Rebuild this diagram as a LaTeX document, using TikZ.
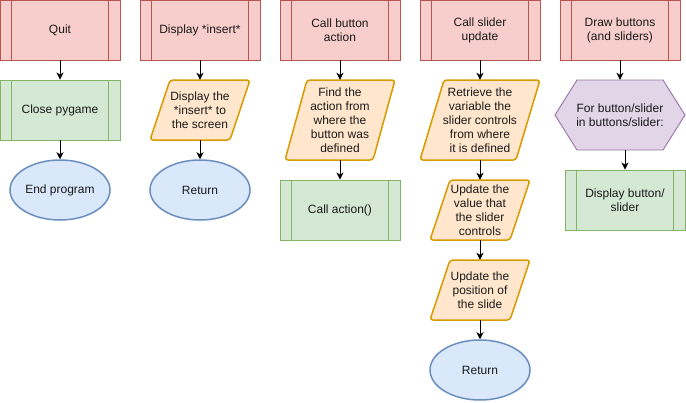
\documentclass[tikz,border=0pt]{standalone}
\usepackage{fontspec}
\setmainfont{Liberation Sans}
\usetikzlibrary{shapes.geometric,arrows.meta}
\definecolor{redF}{HTML}{F8CECC}\definecolor{redS}{HTML}{B85450}
\definecolor{greenF}{HTML}{D5E8D4}\definecolor{greenS}{HTML}{82B366}
\definecolor{blueF}{HTML}{DAE8FC}\definecolor{blueS}{HTML}{6C8EBF}
\definecolor{orangeF}{HTML}{FFE6CC}\definecolor{orangeS}{HTML}{D79B00}
\definecolor{purpleF}{HTML}{E1D5E7}\definecolor{purpleS}{HTML}{9673A6}
\definecolor{txtc}{HTML}{1A1A1A}
\tikzset{
 base/.style={inner sep=0pt, align=center, font=\fontsize{12}{14}\selectfont, text=txtc},
 proc/.style={base, rectangle, minimum width=120pt, minimum height=60pt, line width=0.9pt},
 redproc/.style={proc, draw=redS, fill=redF},
 greenproc/.style={proc, draw=greenS, fill=greenF},
 term/.style={base, ellipse, draw=blueS, fill=blueF, minimum width=100pt, minimum height=60pt, line width=1.5pt},
 iofill/.style={draw=orangeS, fill=orangeF, line width=1.5pt, rounded corners=3pt},
 hexfill/.style={draw=purpleS, fill=purpleF, line width=0.9pt},
 ghost/.style={base, rectangle},
 conn/.style={-{Stealth[length=7pt,width=7pt,inset=2pt]}, line width=0.9pt, black},
}
\newcommand\sublines[2]{\draw[#2, line width=0.9pt] ([xshift=12pt]#1.north west) -- ([xshift=12pt]#1.south west) ([xshift=-12pt]#1.north east) -- ([xshift=-12pt]#1.south east);}
\newcommand\paral[6]{%
 \pgfmathsetmacro\pw{#4/2}\pgfmathsetmacro\ph{#5/2}\pgfmathsetmacro\ps{0.2*#4}%
 \draw[iofill] (#2-\pw+\ps,#3-\ph) -- (#2+\pw,#3-\ph) -- (#2+\pw-\ps,#3+\ph) -- (#2-\pw,#3+\ph) -- cycle;
 \node[ghost, minimum width=#4pt, minimum height=#5pt] (#1) at (#2,#3) {#6};}
\begin{document}
\begin{tikzpicture}[x=1pt,y=-1pt]
\useasboundingbox (0,0) rectangle (686,402);
% column 1
\node[redproc] (quit) at (60,30) {Quit};
\sublines{quit}{redS}
\node[greenproc] (close) at (60,110) {Close pygame};
\sublines{close}{greenS}
\node[term] (endp) at (60,190) {End program};
% column 2
\node[redproc] (disp) at (200,30) {Display *insert*};
\sublines{disp}{redS}
\paral{dscr}{200}{110}{100}{60}{Display the\\*insert* to\\the screen}
\node[term] (ret1) at (200,190) {Return};
% column 3
\node[redproc] (cba) at (340,30) {Call button\\action};
\sublines{cba}{redS}
\paral{find}{340}{120}{110}{80}{Find the\\action from\\where the\\button was\\defined}
\node[greenproc] (calla) at (340,210) {Call action()};
\sublines{calla}{greenS}
% column 4
\node[redproc] (csu) at (480,30) {Call slider\\update};
\sublines{csu}{redS}
\paral{retr}{480}{120}{120}{80}{Retrieve the\\variable the\\slider controls\\from where\\it is defined}
\paral{updv}{480}{210}{100}{60}{Update the\\value that\\the slider\\controls}
\paral{updp}{480}{290}{100}{60}{Update the\\position of\\the slide}
\node[term] (ret2) at (480,370) {Return};
% column 5
\node[redproc] (drawb) at (620,30) {Draw buttons\\(and sliders)};
\sublines{drawb}{redS}
\draw[hexfill] (555,115) -- (577,80) -- (663,80) -- (685,115) -- (663,150) -- (577,150) -- cycle;
\node[ghost, minimum width=130pt, minimum height=70pt] (loop) at (620,115) {For button/slider\\in buttons/slider:};
\node[greenproc] (dbs) at (625,200) {Display button/\\slider};
\sublines{dbs}{greenS}
% connectors
\draw[conn] (quit) -- (close);
\draw[conn] (close) -- (endp);
\draw[conn] (disp) -- (dscr);
\draw[conn] (dscr) -- (ret1);
\draw[conn] (cba) -- (find);
\draw[conn] (find) -- (calla);
\draw[conn] (csu) -- (retr);
\draw[conn] (retr) -- (updv);
\draw[conn] (updv) -- (updp);
\draw[conn] (updp) -- (ret2);
\draw[conn] (drawb) -- (loop);
\draw[conn] (loop.south -| dbs.north) -- (dbs.north);
\end{tikzpicture}
\end{document}
